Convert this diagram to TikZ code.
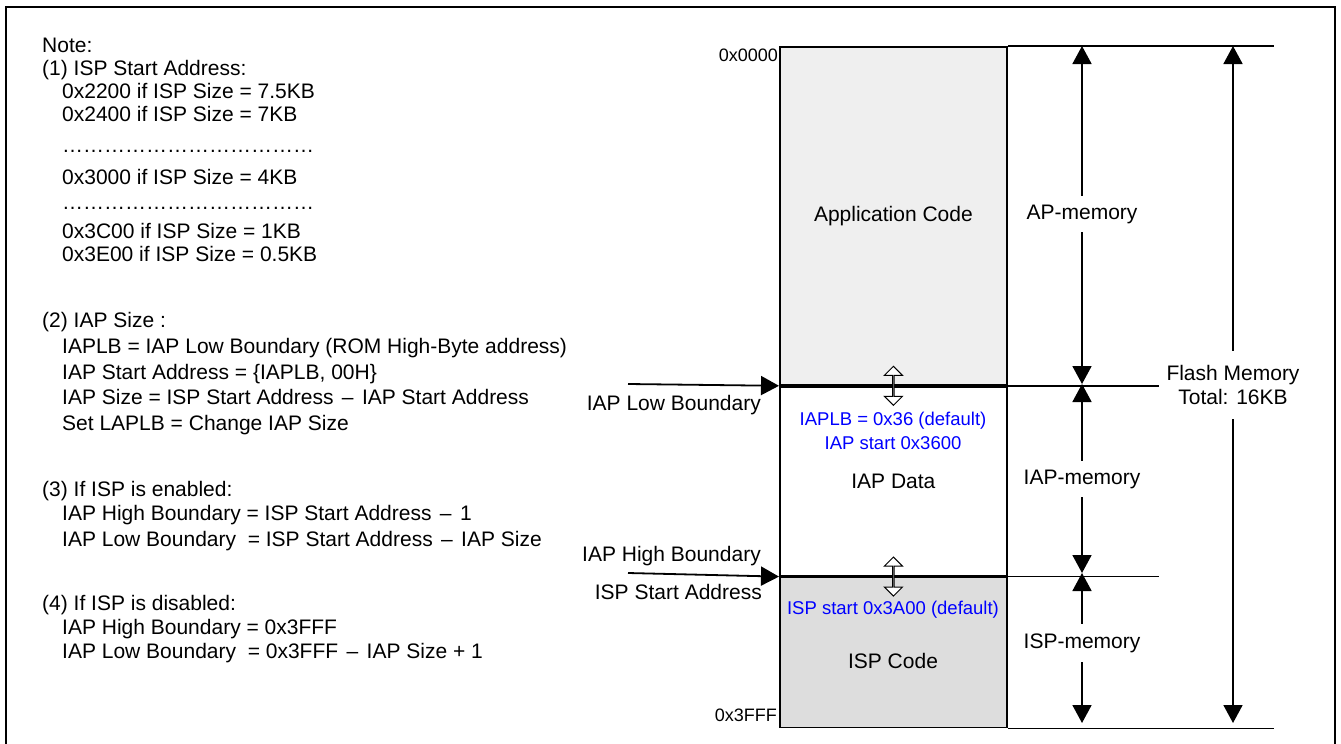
\documentclass[tikz,border=0pt]{standalone}
\usepackage{fontspec}
\setmainfont{Liberation Sans}
\usepackage{tikz}
\usetikzlibrary{positioning,arrows.meta,shapes.arrows}
\definecolor{appgray}{RGB}{239,239,239}
\definecolor{ispgray}{RGB}{221,221,221}
\definecolor{noteblue}{RGB}{0,0,255}
\newcommand{\subsign}{\hspace{0.4em}–\hspace{0.4em}}
\newcommand{\dotrow}{\foreach \i in {1,...,12}{…}}
\tikzset{
  memblk/.style={draw, line width=1.8pt, minimum width=227pt, inner sep=0pt, anchor=north west, font=\fontsize{21}{24}\selectfont},
  notetxt/.style={anchor=base west, inner sep=0pt, font=\fontsize{21}{24}\selectfont},
  lbltxt/.style={anchor=base east, inner sep=0pt, font=\fontsize{21}{24}\selectfont},
  bluetxt/.style={inner sep=0pt, text=noteblue, font=\fontsize{18.5}{22}\selectfont},
  addrtxt/.style={anchor=east, inner sep=0pt, font=\fontsize{18}{20}\selectfont},
  memlbl/.style={fill=white, inner xsep=2pt, inner ysep=9pt, font=\fontsize{21}{24}\selectfont},
  dimarrow/.style={line width=1.8pt, {Triangle[width=19pt,length=18pt]}-{Triangle[width=19pt,length=18pt]}},
  bndarrow/.style={line width=1.8pt, -{Triangle[width=19pt,length=18pt]}},
  hollowarr/.style={draw, fill=white, line width=1pt, shape=double arrow, shape border rotate=90,
    minimum height=39pt, minimum width=18pt, double arrow head extend=5pt, inner sep=0pt},
  rline/.style={line width=1.5pt}
}
\begin{document}
\begin{tikzpicture}[x=1pt,y=-1pt]
  \useasboundingbox (0,0) rectangle (1341,744);
  \draw[line width=2.5pt] (6,744) -- (6,7) -- (1335,7) -- (1335,744);

  % notes
  \node[notetxt] (n0) at (42,52) {Note:};
  \node[notetxt] (n1) at (42,75) {(1) ISP Start Address:};
  \node[notetxt] (n1a) at (62,98) {0x2200 if ISP Size = 7.5KB};
  \node[notetxt] (n1b) at (62,121) {0x2400 if ISP Size = 7KB};
  \node[notetxt] (n1c) at (62,152) {\dotrow};
  \node[notetxt] (n1d) at (62,184) {0x3000 if ISP Size = 4KB};
  \node[notetxt] (n1e) at (62,209) {\dotrow};
  \node[notetxt] (n1f) at (62,238) {0x3C00 if ISP Size = 1KB};
  \node[notetxt] (n1g) at (62,261) {0x3E00 if ISP Size = 0.5KB};
  \node[notetxt] (n2) at (42,327) {(2) IAP Size :};
  \node[notetxt] (n2a) at (62,353) {IAPLB = IAP Low Boundary (ROM High-Byte address)};
  \node[notetxt] (n2b) at (62,379) {IAP Start Address = \{IAPLB, 00H\}};
  \node[notetxt] (n2c) at (62,404) {IAP Size = ISP Start Address\subsign IAP Start Address};
  \node[notetxt] (n2d) at (62,430) {Set LAPLB = Change IAP Size};
  \node[notetxt] (n3) at (42,496) {(3) If ISP is enabled:};
  \node[notetxt] (n3a) at (62,520) {IAP High Boundary = ISP Start Address\subsign 1};
  \node[notetxt] (n3b) at (62,546) {IAP Low Boundary\ \ = ISP Start Address\subsign IAP Size};
  \node[notetxt] (n4) at (42,610) {(4) If ISP is disabled:};
  \node[notetxt] (n4a) at (62,634) {IAP High Boundary = 0x3FFF};
  \node[notetxt] (n4b) at (62,658) {IAP Low Boundary\ \ = 0x3FFF\subsign IAP Size + 1};

  % memory map
  \node[memblk, fill=appgray, minimum height=338pt] (app) at (779,46) {Application Code};
  \node[memblk, minimum height=189pt] (iap) at (app.south west) {IAP Data};
  \node[memblk, fill=ispgray, minimum height=150pt] (isp) at (iap.south west) {};
  \node[lbltxt, anchor=center] (ispcode) at (893,661) {ISP Code};
  \node[bluetxt] (iaplb) at (893,421) {IAPLB = 0x36 (default)};
  \node[bluetxt] (iapst) at (893,443) {IAP start 0x3600};
  \node[bluetxt] (ispst) at (893,610) {ISP start 0x3A00 (default)};
  \node[addrtxt] (a0) at (778,55) {0x0000};
  \node[addrtxt] (a1) at (777,715) {0x3FFF};

  \draw[rline] (app.north east) -- ++(266,0);
  \draw[rline] (iap.north east) -- ++(151,0);
  \draw[rline] (isp.north east) -- ++(151,0);
  \draw[rline] (isp.south east) -- ++(266,0);

  \node[hollowarr] (iaphb) at (iap.north) {};
  \node[hollowarr] (isphb) at (isp.north) {};

  % boundaries
  \coordinate (lb) at (628,384); \coordinate (hb) at (628,573);
  \draw[bndarrow] (lb) -- (iap.north west);
  \draw[bndarrow] (hb) -- (isp.north west);
  \node[lbltxt] (lowlbl) at (761,410) {IAP Low Boundary};
  \node[lbltxt] (highlbl) at (761,561) {IAP High Boundary};
  \node[lbltxt] (isplbl) at (762,599) {ISP Start Address};

  % sizes
  \coordinate (m0) at (1082,46); \coordinate (m1) at (1082,384);
  \coordinate (m2) at (1082,573); \coordinate (m3) at (1082,723);
  \coordinate (f0) at (1233,46); \coordinate (f1) at (1233,723);
  \draw[dimarrow] (m0) -- (m1); \draw[dimarrow] (m1) -- (m2); \draw[dimarrow] (m2) -- (m3);
  \draw[dimarrow] (f0) -- (f1);
  \node[memlbl] (apmem) at (1082,214) {AP-memory};
  \node[memlbl] (iapmem) at (1082,479) {IAP-memory};
  \node[memlbl] (ispmem) at (1082,643) {ISP-memory};
  \node[memlbl, inner ysep=14pt, align=center] (flash) at (1233,385) {Flash Memory\\Total: 16KB};
\end{tikzpicture}
\end{document}
